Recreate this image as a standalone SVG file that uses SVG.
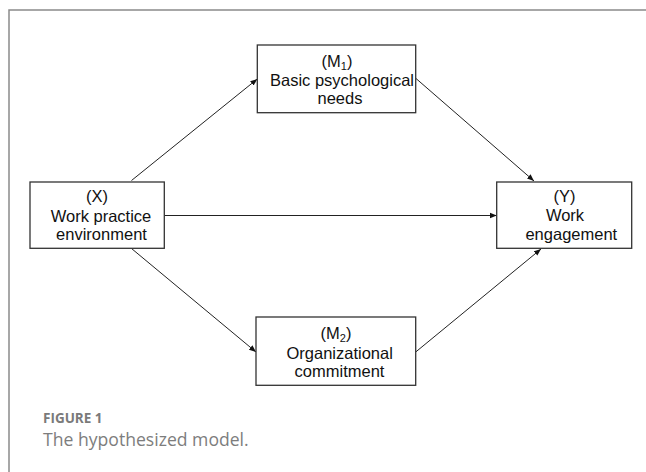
<svg xmlns="http://www.w3.org/2000/svg" width="646" height="472" viewBox="0 0 646 472">
<defs>
<style>
.box{fill:#fff;stroke:#333;stroke-width:1.3}
.t{font-family:"Liberation Sans",Arial,sans-serif;font-size:16.5px;fill:#111;text-anchor:middle}
.e{stroke:#222;stroke-width:1;fill:none;marker-end:url(#ah)}
</style>
<marker id="ah" viewBox="0 0 10 10" refX="10" refY="5" markerWidth="7" markerHeight="7" markerUnits="userSpaceOnUse" orient="auto">
<path d="M0,1 L10,5 L0,9 Z" fill="#111"/>
</marker>
</defs>
<rect width="646" height="472" fill="#fff"/>
<path d="M9,480 L9,10 L660,10" fill="none" stroke="#8a8a8a" stroke-width="1.5"/>
<g id="connectors">
<line class="e" x1="131.5" y1="180.5" x2="257.3" y2="79"/>
<line class="e" x1="164.3" y1="215.5" x2="496.7" y2="215.5"/>
<line class="e" x1="416" y1="78.5" x2="534" y2="181"/>
<line class="e" x1="131.5" y1="248.5" x2="256" y2="352"/>
<line class="e" x1="415.7" y1="352" x2="541" y2="249"/>
</g>
<g id="M1">
<rect class="box" x="257.3" y="45" width="158.4" height="67.7"/>
<text class="t" x="337" y="66.5">(M<tspan font-size="11" dy="3">1</tspan><tspan dy="-3">)</tspan></text>
<text class="t" x="342" y="85.5">Basic psychological</text>
<text class="t" x="340" y="104">needs</text>
</g>
<g id="X">
<rect class="box" x="30" y="182" width="134.3" height="66.3"/>
<text class="t" x="97" y="201.5">(X)</text>
<text class="t" x="101" y="221.5">Work practice</text>
<text class="t" x="101.5" y="240">environment</text>
</g>
<g id="Y">
<rect class="box" x="496.7" y="182" width="135" height="66.3"/>
<text class="t" x="564.5" y="201.5">(Y)</text>
<text class="t" x="565" y="221">Work</text>
<text class="t" x="571.3" y="240">engagement</text>
</g>
<g id="M2">
<rect class="box" x="256" y="317" width="159.7" height="68.3"/>
<text class="t" x="336" y="338.5">(M<tspan font-size="11" dy="3">2</tspan><tspan dy="-3">)</tspan></text>
<text class="t" x="339.7" y="358.5">Organizational</text>
<text class="t" x="339.5" y="377">commitment</text>
</g>
<g id="caption">
<text x="43" y="422.5" font-family="'Open Sans',sans-serif" font-size="13.5" font-weight="bold" fill="#7a7a7a">FIGURE 1</text>
<text x="43" y="446" font-family="'Open Sans',sans-serif" font-size="17.6" fill="#7d7d7d">The hypothesized model.</text>
</g>
</svg>
